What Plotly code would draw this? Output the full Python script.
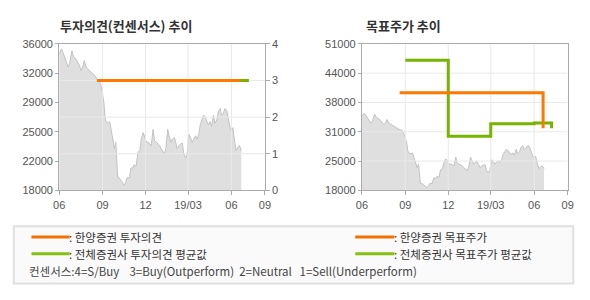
import plotly.graph_objects as go

# ---------------- data ----------------
price_dates = [
    "2018-06-01", "2018-06-06", "2018-06-09", "2018-06-13", "2018-06-16", "2018-06-20",
    "2018-06-23", "2018-06-28", "2018-07-02", "2018-07-07", "2018-07-10", "2018-07-14",
    "2018-07-17", "2018-07-21", "2018-07-24", "2018-07-28", "2018-07-31", "2018-08-03",
    "2018-08-07", "2018-08-10", "2018-08-14", "2018-08-17", "2018-08-21", "2018-08-24",
    "2018-08-28", "2018-08-31", "2018-09-04", "2018-09-06", "2018-09-08", "2018-09-13",
    "2018-09-16", "2018-09-19", "2018-09-22", "2018-09-24", "2018-09-26", "2018-09-29",
    "2018-10-01", "2018-10-03", "2018-10-06", "2018-10-10", "2018-10-14", "2018-10-17",
    "2018-10-20", "2018-10-23", "2018-10-28", "2018-10-31", "2018-11-04", "2018-11-07",
    "2018-11-11", "2018-11-15", "2018-11-19", "2018-11-22", "2018-11-26", "2018-11-30",
    "2018-12-03", "2018-12-07", "2018-12-10", "2018-12-13", "2018-12-17", "2018-12-20",
    "2018-12-24", "2018-12-27", "2018-12-31", "2019-01-03", "2019-01-06", "2019-01-10",
    "2019-01-13", "2019-01-17", "2019-01-20", "2019-01-24", "2019-01-27", "2019-01-31",
    "2019-02-03", "2019-02-06", "2019-02-10", "2019-02-13", "2019-02-17", "2019-02-20",
    "2019-02-24", "2019-02-27", "2019-03-03", "2019-03-06", "2019-03-10", "2019-03-13",
    "2019-03-17", "2019-03-20", "2019-03-24", "2019-03-27", "2019-03-31", "2019-04-03",
    "2019-04-06", "2019-04-10", "2019-04-13", "2019-04-17", "2019-04-20", "2019-04-24",
    "2019-04-27", "2019-05-01", "2019-05-04", "2019-05-08", "2019-05-11", "2019-05-15",
    "2019-05-18", "2019-05-22", "2019-05-25", "2019-05-29", "2019-06-01", "2019-06-04",
    "2019-06-08", "2019-06-11", "2019-06-15", "2019-06-18", "2019-06-22",
]
price_values = [
    34750, 35400, 34950, 34350, 33750, 33150,
    33550, 35150, 34350, 34150, 33750, 33350,
    32750, 33150, 33950, 33150, 32950, 32750,
    32550, 32400, 32200, 32000, 31600, 31600,
    31000, 30200, 28650, 27050, 26450, 26250,
    26450, 25500, 24500, 23500, 23100, 23900,
    20950, 19550, 19550, 19200, 19000, 18600,
    19000, 19550, 19550, 20750, 20750, 21150,
    20950, 22700, 22900, 24300, 25100, 24500,
    23900, 23900, 23700, 23500, 25500, 24100,
    23900, 23700, 23500, 23100, 22900, 22500,
    23100, 25500, 24700, 23900, 24300, 24500,
    23900, 23100, 23500, 23700, 23800, 22500,
    21950, 22500, 24900, 24500, 23900, 24300,
    24700, 24300, 24900, 26050, 26850, 27250,
    27050, 26450, 26050, 26450, 25850, 27250,
    26250, 26650, 27650, 28050, 27250, 27450,
    28050, 27850, 26850, 25700, 25300, 25700,
    23900, 22900, 23300, 23500, 22900,
]

opinion_dates = ["2018-08-20", "2019-06-20"]
opinion_hanyang = [3, 3]
opinion_avg_dates = ["2018-08-20", "2019-07-08"]
opinion_avg = [3, 3]

target_dates = ["2018-08-20", "2019-06-20"]
target_hanyang = [40000, 32000]
target_avg_dates = ["2018-09-01", "2018-12-01", "2019-03-01", "2019-06-01", "2019-07-08"]
target_avg = [47300, 30200, 33000, 33200, 32000]

x_range = ["2018-06-01", "2019-08-11"]
x_tickvals = ["2018-06-01", "2018-09-01", "2018-12-01", "2019-03-01", "2019-06-01", "2019-08-11"]
x_ticktext = ["06", "09", "12", "19/03", "06", "09"]

left_price_range = [18000, 36000]
left_price_tickvals = [18000, 21600, 25200, 28800, 32400, 36000]
left_price_ticktext = ["18000", "22000", "25000", "29000", "32000", "36000"]
opinion_range = [0, 4]
opinion_tickvals = [0, 1, 2, 3, 4]

right_price_range = [18000, 51000]
right_price_tickvals = [18000, 24600, 31200, 37800, 44400, 51000]
right_price_ticktext = ["18000", "25000", "31000", "38000", "44000", "51000"]

title_left = "투자의견(컨센서스) 추이"
title_right = "목표주가 추이"
legend_labels = [": 한양증권 투자의견", ": 전체증권사 투자의견 평균값",
                 ": 한양증권 목표주가", ": 전체증권사 목표주가 평균값"]
consensus_text = "컨센서스:4=S/Buy    3=Buy(Outperform)  2=Neutral   1=Sell(Underperform)"

# ---------------- style ----------------
W, H = 590, 300
ORANGE = "#FF7800"
GREEN = "#76B400"
LEG_ORANGE = "#F07000"
LEG_GREEN = "#86C010"
FILL = "#dfdfdf"
PRICE_LINE = "#c2c2c2"
GRID = "#e9e9e9"
AXIS = "#ababab"
TICKFONT = dict(family="Liberation Sans, Arial, sans-serif", size=11, color="#555555")
KFONT = "Noto Sans CJK KR, sans-serif"


def X(px):
    return px / W


def Y(py):
    return 1 - py / H


dom_left = [X(54.3), X(264.3)]
dom_right = [X(363.3), X(573.3)]
dom_y = [Y(192), Y(39.5)]

fig = go.Figure()

# ----- left chart -----
fig.add_trace(go.Scatter(x=price_dates, y=price_values, xaxis="x", yaxis="y",
                         mode="lines", fill="tozeroy", fillcolor=FILL,
                         line=dict(color=PRICE_LINE, width=1), hoverinfo="skip"))

gx, gy = [], []
for v in opinion_tickvals[1:-1]:
    gx += [x_range[0], x_range[1], None]
    gy += [v, v, None]
for d in x_tickvals[1:-1]:
    gx += [d, d, None]
    gy += [opinion_range[0], opinion_range[1], None]
fig.add_trace(go.Scatter(x=gx, y=gy, xaxis="x", yaxis="y2", mode="lines",
                         line=dict(color=GRID, width=1), hoverinfo="skip"))

fig.add_trace(go.Scatter(x=opinion_avg_dates, y=opinion_avg, xaxis="x", yaxis="y2",
                         mode="lines", line=dict(color=GREEN, width=3, shape="hv")))
fig.add_trace(go.Scatter(x=opinion_dates, y=opinion_hanyang, xaxis="x", yaxis="y2",
                         mode="lines", line=dict(color=ORANGE, width=3, shape="hv")))

# ----- right chart -----
fig.add_trace(go.Scatter(x=price_dates, y=price_values, xaxis="x2", yaxis="y3",
                         mode="lines", fill="tozeroy", fillcolor=FILL,
                         line=dict(color=PRICE_LINE, width=1), hoverinfo="skip"))

gx, gy = [], []
for v in right_price_tickvals[1:-1]:
    gx += [x_range[0], x_range[1], None]
    gy += [v, v, None]
for d in x_tickvals[1:-1]:
    gx += [d, d, None]
    gy += [right_price_range[0], right_price_range[1], None]
fig.add_trace(go.Scatter(x=gx, y=gy, xaxis="x2", yaxis="y3", mode="lines",
                         line=dict(color=GRID, width=1), hoverinfo="skip"))

fig.add_trace(go.Scatter(x=target_avg_dates, y=target_avg, xaxis="x2", yaxis="y3",
                         mode="lines", line=dict(color=GREEN, width=3, shape="hv")))
fig.add_trace(go.Scatter(x=target_dates, y=target_hanyang, xaxis="x2", yaxis="y3",
                         mode="lines", line=dict(color=ORANGE, width=3, shape="hv")))

xcommon = dict(type="date", range=x_range, tickmode="array", tickvals=x_tickvals,
               ticktext=x_ticktext, showgrid=False, showline=True, linecolor=AXIS,
               linewidth=1, mirror=True, ticks="outside", ticklen=4, tickcolor=AXIS,
               tickfont=TICKFONT, zeroline=False, fixedrange=True)

fig.update_layout(
    width=W, height=H, margin=dict(l=0, r=0, t=0, b=0),
    paper_bgcolor="white", plot_bgcolor="rgba(0,0,0,0)", showlegend=False,
    xaxis=dict(domain=dom_left, anchor="y", **xcommon),
    xaxis2=dict(domain=dom_right, anchor="y3", **xcommon),
    yaxis=dict(domain=dom_y, anchor="x", range=left_price_range, tickmode="array",
               tickvals=left_price_tickvals, ticktext=left_price_ticktext,
               showgrid=False, zeroline=False, showline=True, linecolor=AXIS,
               mirror=True, ticks="outside", ticklen=3, tickcolor=AXIS,
               tickfont=TICKFONT, fixedrange=True),
    yaxis2=dict(overlaying="y", side="right", anchor="x", range=opinion_range,
                tickmode="array", tickvals=opinion_tickvals, showgrid=False,
                zeroline=False, showline=False, ticks="outside", ticklen=4,
                tickcolor=AXIS, tickfont=TICKFONT, fixedrange=True),
    yaxis3=dict(domain=dom_y, anchor="x2", range=right_price_range, tickmode="array",
                tickvals=right_price_tickvals, ticktext=right_price_ticktext,
                showgrid=False, zeroline=False, showline=True, linecolor=AXIS,
                mirror=True, ticks="outside", ticklen=3, tickcolor=AXIS,
                tickfont=TICKFONT, fixedrange=True),
)

annotations = [
    dict(text="<b>" + title_left + "</b>", x=X(53), y=Y(20.5), xref="paper", yref="paper",
         xanchor="left", yanchor="middle", showarrow=False,
         font=dict(family=KFONT, size=13, color="#333333")),
    dict(text="<b>" + title_right + "</b>", x=X(365), y=Y(20.5), xref="paper", yref="paper",
         xanchor="left", yanchor="middle", showarrow=False,
         font=dict(family=KFONT, size=13, color="#333333")),
]
shapes = [
    dict(type="rect", xref="paper", yref="paper", x0=X(8), x1=X(579), y0=Y(289), y1=Y(229.5),
         line=dict(color="#e0e0e0", width=2), fillcolor="#fafafa", layer="below"),
]
legend_items = [
    (26, 65, 240.5, LEG_ORANGE, 63, legend_labels[0]),
    (26, 65, 258, LEG_GREEN, 63, legend_labels[1]),
    (356.5, 396.5, 240.5, LEG_ORANGE, 395, legend_labels[2]),
    (356.5, 396.5, 258, LEG_GREEN, 395, legend_labels[3]),
]
for x0, x1, yy, col, tx, label in legend_items:
    shapes.append(dict(type="line", xref="paper", yref="paper", x0=X(x0), x1=X(x1),
                       y0=Y(yy), y1=Y(yy), line=dict(color=col, width=3)))
    annotations.append(dict(text=label, x=X(tx), y=Y(yy), xref="paper", yref="paper",
                            xanchor="left", yanchor="middle", showarrow=False,
                            borderpad=0,
                            font=dict(family=KFONT, size=11.5, color="#333333")))
annotations.append(dict(text=consensus_text.replace(" ", "\u00a0"), x=X(22), y=Y(276.5),
                        xref="paper", yref="paper", xanchor="left", yanchor="middle",
                        showarrow=False, borderpad=0,
                        font=dict(family=KFONT, size=11.5, color="#444444")))

fig.update_layout(annotations=annotations, shapes=shapes)

fig.write_html("out.html", config={"displayModeBar": False})
